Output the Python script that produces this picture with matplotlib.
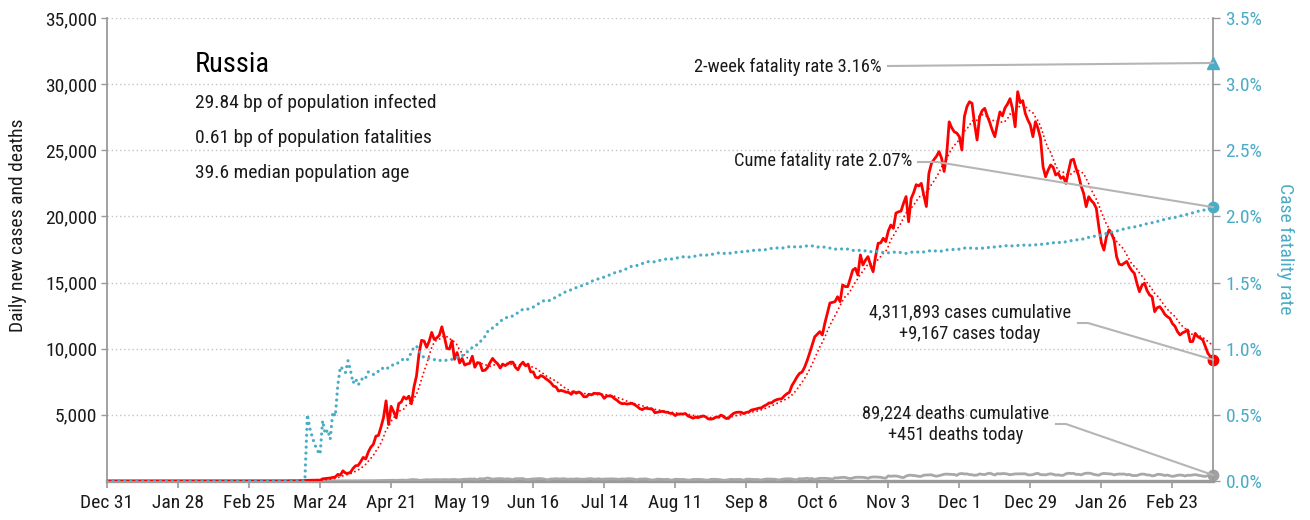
import numpy as np
import pandas as pd
import matplotlib
matplotlib.use("Agg")
import matplotlib.pyplot as plt
from matplotlib import font_manager as fm
from matplotlib.lines import Line2D
import matplotlib.dates as mdates

# ---------------------------------------------------------------- data
START = "2019-12-31"

cases_2019_dec = [0]
cases_2020_jan = [0] * 30 + [2]
cases_2020_feb = [0] * 29
cases_2020_mar = [0, 1, 0, 0, 0, 1, 0, 0, 0, 6, 3, 15, 17, 14, 4, 27, 24, 33, 52, 54,
                  53, 61, 71, 57, 163, 182, 196, 228, 270, 302, 501]
cases_2020_apr = [440, 771, 601, 582, 658, 954, 1154, 1175, 1459, 1786, 1667, 2186, 2558,
                  2774, 3388, 3448, 4070, 4785, 6060, 4268, 5642, 5236, 4774, 5849, 5966,
                  6361, 6198, 6411, 5841, 7099]
cases_2020_may = [7933, 9623, 10633, 10581, 10102, 10559, 11231, 10699, 10817, 11012,
                  11656, 10899, 10028, 9974, 10598, 9200, 9709, 8926, 9263, 8764, 8849,
                  8894, 9434, 8599, 8946, 8915, 8338, 8371, 8572, 8952, 9268]
cases_2020_jun = [9035, 8863, 8536, 8831, 8726, 8855, 8984, 8985, 8595, 8404, 8779, 8987,
                  8706, 8835, 8246, 8248, 7843, 7790, 7972, 7889, 7728, 7600, 7425, 7176,
                  7113, 6800, 6852, 6791, 6719, 6693]
cases_2020_jul = [6556, 6760, 6632, 6736, 6611, 6368, 6368, 6562, 6509, 6635, 6611, 6615,
                  6537, 6248, 6422, 6428, 6406, 6234, 6109, 5940, 5842, 5862, 5811, 5848,
                  5871, 5765, 5635, 5475, 5395, 5509, 5482]
cases_2020_aug = [5462, 5427, 5159, 5204, 5241, 5267, 5212, 5189, 5118, 5102, 4945, 5057,
                  5065, 5061, 5102, 4919, 4839, 4748, 4828, 4790, 4870, 4921, 4852, 4696,
                  4676, 4711, 4830, 4829, 4980, 4897, 4729]
cases_2020_sep = [4729, 4952, 5110, 5185, 5205, 5195, 5099, 5185, 5218, 5363, 5406, 5449,
                  5509, 5529, 5670, 5762, 5904, 5905, 6065, 6148, 6196, 6215, 6431, 6595,
                  6700, 7212, 7523, 7867, 8135, 8232]
cases_2020_oct = [8600, 9100, 9680, 10300, 10900, 11100, 11290, 11040, 11940, 12700,
                  13460, 13500, 13560, 13930, 13560, 14820, 14700, 14690, 15300, 15950,
                  16080, 15570, 17090, 16330, 16700, 16960, 16330, 15820, 17000, 17970,
                  18000]
cases_2020_nov = [18350, 18100, 18900, 19350, 19100, 20250, 20350, 20400, 21000, 21500,
                  19600, 21350, 21800, 22400, 22300, 22500, 21600, 20750, 23250, 24000,
                  24300, 24550, 24900, 24400, 23400, 24650, 27150, 26700, 26400, 26300]
cases_2020_dec = [26030, 25020, 27550, 28300, 28670, 28550, 27000, 25780, 27540, 28000,
                  28170, 27600, 27100, 26500, 26030, 27000, 27900, 27600, 28200, 28500,
                  28900, 28100, 26780, 29430, 28600, 28750, 27790, 27300, 26910, 26030,
                  27160]
cases_2021_jan = [26660, 25910, 23760, 23000, 23500, 23890, 23710, 23130, 23260, 22880,
                  23000, 22500, 23400, 24250, 24320, 23640, 23100, 22300, 21750, 20740,
                  21490, 21200, 21000, 20620, 19200, 18000, 17460, 18470, 18980, 18700,
                  18220]
cases_2021_feb = [16960, 16400, 16330, 16460, 16600, 16200, 15900, 15700, 14950, 14310,
                  14800, 14950, 14400, 14060, 13930, 12800, 13100, 13180, 12930, 12600,
                  12420, 12300, 11900, 11700, 11290, 11040, 11200, 11290]
cases_2021_mar = [11420, 10530, 10550, 11160, 10910, 10800, 10660, 10150, 9650, 9400, 9167]

deaths_2019_dec = [0]
deaths_2020_jan = [0] * 31
deaths_2020_feb = [0] * 29
deaths_2020_mar = [0] * 18 + [1, 0, 0, 0, 0, 0, 2, 0, 1, 0, 4, 1, 8]
deaths_2020_apr = [7, 6, 4, 9, 2, 2, 11, 5, 13, 18, 12, 24, 18, 22, 28, 34, 41, 40, 48, 44,
                   51, 57, 42, 60, 66, 66, 47, 73, 105, 101]
deaths_2020_may = [96, 53, 58, 76, 95, 86, 88, 98, 104, 88, 94, 107, 96, 93, 113, 119, 94,
                   91, 115, 135, 127, 150, 139, 153, 92, 174, 161, 174, 232, 181, 138]
deaths_2020_jun = [162, 178, 182, 169, 144, 167, 134, 112, 171, 174, 176, 181, 119, 113,
                   132, 161, 164, 182, 181, 161, 109, 95, 153, 154, 176, 152, 158, 176,
                   147, 134]
deaths_2020_jul = [154, 135, 168, 146, 135, 134, 148, 173, 174, 137, 148, 168, 124, 147,
                   152, 161, 164, 158, 144, 121, 160, 138, 169, 172, 165, 124, 96, 147,
                   145, 162, 140]
deaths_2020_aug = [95, 70, 95, 144, 129, 119, 114, 129, 70, 77, 130, 129, 113, 121, 94, 68,
                   70, 122, 114, 121, 119, 100, 70, 66, 122, 131, 121, 115, 87, 57, 61]
deaths_2020_sep = [89, 125, 110, 119, 121, 110, 56, 134, 138, 122, 112, 119, 101, 67, 124,
                   150, 149, 147, 139, 109, 73, 122, 154, 160, 169, 151, 96, 99, 177, 160]
deaths_2020_oct = [186, 201, 169, 186, 117, 169, 198, 201, 202, 186, 174, 136, 244, 232,
                   256, 279, 269, 219, 184, 222, 277, 286, 283, 277, 248, 202, 280, 306,
                   305, 294, 280]
deaths_2020_nov = [232, 213, 389, 355, 378, 376, 349, 286, 256, 368, 432, 439, 411, 395,
                   351, 353, 442, 456, 463, 467, 401, 361, 401, 453, 507, 524, 510, 496,
                   491, 427]
deaths_2020_dec = [545, 565, 530, 537, 485, 473, 430, 452, 537, 501, 483, 553, 590, 523,
                   455, 560, 536, 563, 556, 525, 473, 503, 536, 542, 542, 543, 544, 469,
                   457, 482, 553]
deaths_2021_jan = [577, 481, 476, 460, 513, 544, 507, 450, 464, 428, 430, 543, 586, 568,
                   574, 500, 506, 464, 544, 588, 594, 564, 502, 463, 441, 537, 573, 555,
                   534, 526, 463]
deaths_2021_feb = [502, 529, 518, 529, 470, 499, 425, 407, 415, 483, 529, 510, 461, 452,
                   389, 409, 500, 503, 469, 414, 451, 394, 349, 380, 437, 452, 434, 377]
deaths_2021_mar = [438, 428, 455, 482, 441, 407, 368, 350, 404, 466, 451]

country = "Russia"
info_lines = ["29.84 bp of population infected",
              "0.61 bp of population fatalities",
              "39.6 median population age"]
cume_cases = 4311893
cume_deaths = 89224
cases_today = 9167
deaths_today = 451
cume_cfr = 2.07
two_week_cfr = 3.16

# ---------------------------------------------------------------- series
cases = np.array(cases_2019_dec + cases_2020_jan + cases_2020_feb + cases_2020_mar +
                 cases_2020_apr + cases_2020_may + cases_2020_jun + cases_2020_jul +
                 cases_2020_aug + cases_2020_sep + cases_2020_oct + cases_2020_nov +
                 cases_2020_dec + cases_2021_jan + cases_2021_feb + cases_2021_mar,
                 dtype=float)
deaths = np.array(deaths_2019_dec + deaths_2020_jan + deaths_2020_feb + deaths_2020_mar +
                  deaths_2020_apr + deaths_2020_may + deaths_2020_jun + deaths_2020_jul +
                  deaths_2020_aug + deaths_2020_sep + deaths_2020_oct + deaths_2020_nov +
                  deaths_2020_dec + deaths_2021_jan + deaths_2021_feb + deaths_2021_mar,
                  dtype=float)
assert len(cases) == len(deaths) == 437, (len(cases), len(deaths))

dates = pd.date_range(START, periods=len(cases), freq="D")
avg7 = pd.Series(cases).rolling(7, min_periods=1).mean().to_numpy()
cum_c = np.cumsum(cases)
cum_d = np.cumsum(deaths)
cfr = np.where(cum_c > 0, cum_d / np.maximum(cum_c, 1) * 100.0, 0.0)

# ---------------------------------------------------------------- fonts
available = {f.name for f in fm.fontManager.ttflist}
FONT, SCALE = "Liberation Sans", 0.84
for cand in ["Roboto Condensed", "Liberation Sans Narrow", "Open Sans Condensed"]:
    if cand in available:
        FONT, SCALE = cand, 1.0
        break
plt.rcParams["font.family"] = [FONT, "DejaVu Sans"]

RED = "#ff0000"
BLUE = "#4bacc6"
GREY_LINE = "#a8a8a8"
AXIS = "#9a9a9a"
TXT = "#1a1a1a"

W, H = 1310, 520
fig = plt.figure(figsize=(W / 100, H / 100), dpi=100)
ax = fig.add_axes([107 / W, 39 / H, 1106 / W, 463 / H])
ax2 = ax.twinx()


def fpos(x, y_top):
    return x / W, 1 - y_top / H


# ---------------------------------------------------------------- lines
ax.plot(dates, deaths, color=GREY_LINE, lw=2.0, zorder=3)
ax.plot(dates, avg7, color=RED, lw=1.4, linestyle=(0, (0.01, 2.2)),
        dash_capstyle="round", zorder=4)
ax.plot(dates, cases, color=RED, lw=2.0, zorder=5)
ax2.plot(dates, cfr, color=BLUE, lw=2.3, linestyle=(0, (0.01, 1.85)),
         dash_capstyle="round", zorder=4)

ax.set_xlim(dates[0], dates[-1])
ax.set_ylim(0, 35000)
ax2.set_ylim(0, 3.5)

# ---------------------------------------------------------------- axes styling
ax.set_yticks(np.arange(5000, 35001, 5000))
ax.set_yticklabels([f"{int(v):,}" for v in np.arange(5000, 35001, 5000)])
ax.yaxis.grid(True, color="#c4c4c4", lw=1.0, linestyle=(0, (1, 2)))
ax.set_axisbelow(True)
ax2.set_yticks(np.arange(0, 3.51, 0.5))
ax2.set_yticklabels([f"{v:.1f}%" for v in np.arange(0, 3.51, 0.5)])

tick_dates = dates[::28]
ax.set_xticks(tick_dates)
ax.set_xticklabels([f"{d:%b} {d.day}" for d in tick_dates])

TICK_FS = 14 * SCALE
ax.tick_params(axis="x", length=5, width=1.2, color=AXIS, pad=4,
               labelsize=TICK_FS, labelcolor=TXT)
ax.tick_params(axis="y", length=4, width=1.0, color=AXIS, pad=3,
               labelsize=TICK_FS, labelcolor=TXT)
ax2.tick_params(axis="y", length=5, width=1.0, color=AXIS, pad=4,
                labelsize=TICK_FS, labelcolor=BLUE)

for a in (ax, ax2):
    a.spines["top"].set_visible(False)
ax.spines["right"].set_visible(False)
ax2.spines["left"].set_visible(False)
ax2.spines["bottom"].set_visible(False)
ax.spines["left"].set_color(AXIS)
ax.spines["left"].set_linewidth(1.3)
ax.spines["bottom"].set_color(AXIS)
ax.spines["bottom"].set_linewidth(2.4)
ax2.spines["right"].set_color(AXIS)
ax2.spines["right"].set_linewidth(1.3)

fig.text(*fpos(18, 225), "Daily new cases and deaths", rotation=90,
         ha="center", va="center", fontsize=TICK_FS, color=TXT)
fig.text(*fpos(1285, 249), "Case fatality rate", rotation=270,
         ha="center", va="center", fontsize=TICK_FS, color=BLUE)

# ---------------------------------------------------------------- headline block
fig.text(*fpos(195, 64), country, ha="left", va="center",
         fontsize=20.5 * SCALE, color="black")
for i, line in enumerate(info_lines):
    fig.text(*fpos(195, 103 + 35 * i), line, ha="left", va="center",
             fontsize=14 * SCALE, color=TXT)

# ---------------------------------------------------------------- end markers
x_end = dates[-1]
ax.plot([x_end], [cases[-1]], "o", color=RED, ms=7.5, clip_on=False, zorder=10)
ax.plot([x_end], [deaths[-1]], "o", color="#a0a0a0", ms=7.5, clip_on=False, zorder=10)
ax2.plot([x_end], [cume_cfr], "o", color=BLUE, ms=7.5, clip_on=False, zorder=10)
ax2.plot([x_end], [two_week_cfr], "^", color=BLUE, ms=8, clip_on=False, zorder=10)


def disp(axis, value):
    x, y = axis.transData.transform((mdates.date2num(x_end), value))
    return x, H - y


def leader(points):
    xs = [p[0] / W for p in points]
    ys = [1 - p[1] / H for p in points]
    fig.add_artist(Line2D(xs, ys, transform=fig.transFigure, color="#b5b5b5",
                          lw=1.5, zorder=1))


ANN = 13.3 * SCALE
fig.text(*fpos(882, 67), f"2-week fatality rate {two_week_cfr:.2f}%", ha="right",
         va="center", fontsize=ANN, color=TXT)
leader([(888, 66), disp(ax2, two_week_cfr)])

fig.text(*fpos(912, 161), f"Cume fatality rate {cume_cfr:.2f}%", ha="right",
         va="center", fontsize=ANN, color=TXT)
leader([(918, 162), (937, 162), disp(ax2, cume_cfr)])

fig.text(*fpos(970, 323), f"{cume_cases:,} cases cumulative\n+{cases_today:,} cases today",
         ha="center", va="center", fontsize=ANN, color=TXT, linespacing=1.3)
leader([(1078, 323), (1088, 323), disp(ax, cases[-1])])

fig.text(*fpos(956, 424), f"{cume_deaths:,} deaths cumulative\n+{deaths_today:,} deaths today",
         ha="center", va="center", fontsize=ANN, color=TXT, linespacing=1.3)
leader([(1056, 424), (1066, 424), disp(ax, deaths[-1])])

fig.savefig("out.png", dpi=100)
